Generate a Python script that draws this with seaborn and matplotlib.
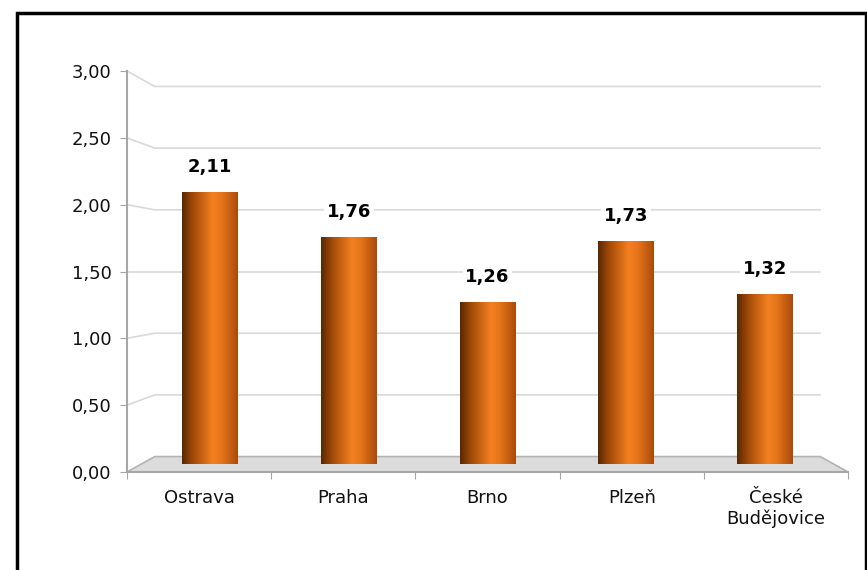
import numpy as np
import matplotlib.pyplot as plt
import seaborn as sns
from matplotlib.colors import LinearSegmentedColormap
from matplotlib.patches import Polygon, Rectangle

# data
cities = ['Ostrava', 'Praha', 'Brno', 'Plzeň', 'České\nBudějovice']
values = [2.11, 1.76, 1.26, 1.73, 1.32]
y_ticks = [0, 0.5, 1.0, 1.5, 2.0, 2.5, 3.0]

sns.set_style('white')
plt.rcParams['font.family'] = ['DejaVu Sans']

# simple perspective: front / back planes around the bar plane
k = 0.04
def front_x(u): return 2 + (u - 2) * (1 + k)
def back_x(u): return 2 + (u - 2) * (1 - k)
def front_y(v): return 1.5 + (v - 1.5) * (1 + k)
def back_y(v): return 1.5 + (v - 1.5) * (1 - k)

fig = plt.figure(figsize=(8.67, 5.7), dpi=100)
ax = fig.add_axes([127 / 867, 98 / 570, 721 / 867, 401 / 570])

sns.barplot(x=cities, y=values, ax=ax, width=0.4, color='#e8761a',
            edgecolor='none', linewidth=0, zorder=3)

# cylinder shading
cmap = LinearSegmentedColormap.from_list('cyl', [(0, '#5a2700'), (0.18, '#9c4708'),
                                                 (0.55, '#f4801f'), (0.72, '#e5741a'),
                                                 (1.0, '#a84b0b')])
grad = np.linspace(0, 1, 256).reshape(1, -1)
for bar in ax.patches:
    x0, w, h = bar.get_x(), bar.get_width(), bar.get_height()
    ax.imshow(grad, cmap=cmap, extent=[x0, x0 + w, 0, h], aspect='auto', zorder=4)

# floor
floor = Polygon([(front_x(-0.5), front_y(0)), (front_x(4.5), front_y(0)),
                 (back_x(4.5), back_y(0)), (back_x(-0.5), back_y(0))],
                closed=True, facecolor='#dcdcdc', edgecolor='#b3b3b3', lw=1.2,
                zorder=1, clip_on=False)
ax.add_patch(floor)

# perspective gridlines
for v in y_ticks[1:]:
    ax.plot([front_x(-0.5), back_x(-0.5), back_x(4.5)],
            [front_y(v), back_y(v), back_y(v)],
            color='#d9d9d9', lw=1.2, zorder=1, clip_on=False)

ax.set_xlim(front_x(-0.5), front_x(4.5))
ax.set_ylim(front_y(0), front_y(3))

# value labels
for i, v in enumerate(values):
    ax.text(i, v + 0.2, f'{v:.2f}'.replace('.', ','), ha='center', va='center',
            fontsize=13, fontweight='bold', color='black', zorder=6,
            bbox=dict(facecolor='white', edgecolor='none', pad=2))

# axes
for s in ['top', 'right']:
    ax.spines[s].set_visible(False)
for s in ['left', 'bottom']:
    ax.spines[s].set_color('#a6a6a6')
    ax.spines[s].set_linewidth(1.5)

ax.set_yticks([front_y(v) for v in y_ticks])
ax.set_yticklabels([f'{v:.2f}'.replace('.', ',') for v in y_ticks])
ax.tick_params(axis='y', left=True, length=5, color='#a6a6a6', labelsize=13,
               labelcolor='#111111', pad=6)

ax.set_xticks([front_x(b) for b in np.arange(-0.5, 5)])
ax.set_xticklabels([])
ax.set_xticks([front_x(i) for i in range(len(cities))], minor=True)
ax.set_xticklabels(cities, minor=True)
ax.tick_params(axis='x', which='major', bottom=True, length=5, color='#a6a6a6')
ax.tick_params(axis='x', which='minor', bottom=False, length=0, labelsize=13,
               labelcolor='#111111', pad=12)
ax.set_xlabel('')
ax.set_ylabel('')
ax.grid(False)

# chart frame
fig.patches.append(Rectangle((16.5 / 867, -0.05), (865.5 - 16.5) / 867, 1.05 - 12.5 / 570,
                             transform=fig.transFigure, fill=False, edgecolor='black', lw=2.5))

fig.savefig('out.png', dpi=100)
